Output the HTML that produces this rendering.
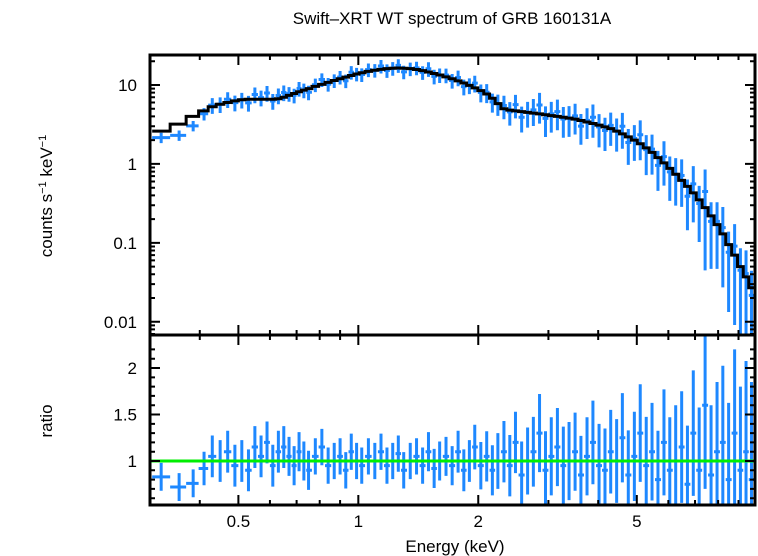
<!DOCTYPE html>
<html><head><meta charset="utf-8"><style>
body{margin:0;background:#fff;}
svg{display:block;font-family:"Liberation Sans",sans-serif;}
</style></head><body>
<svg id="chart" width="758" height="556" viewBox="0 0 758 556" xmlns="http://www.w3.org/2000/svg">
<text x="452" y="24" font-size="17" text-anchor="middle">Swift–XRT WT spectrum of GRB 160131A</text>
<text transform="translate(52,196) rotate(-90)" font-size="17" text-anchor="middle">counts s<tspan font-size="11" dy="-6">−1</tspan><tspan dy="6"> keV</tspan><tspan font-size="11" dy="-6">−1</tspan></text>
<text transform="translate(52,421) rotate(-90)" font-size="17" text-anchor="middle">ratio</text>
<text x="455" y="552" font-size="17" text-anchor="middle">Energy (keV)</text>
<g id="g"></g>
</svg>
<script>
const energies=[0.32,0.355,0.385,0.41,0.43,0.45,0.47,0.49,0.51,0.53,0.55,0.57,0.59,0.61,0.63,0.65,0.67,0.69,0.71,0.73,0.75,0.78,0.81,0.84,0.87,0.9,0.93,0.96,0.99,1.02,1.06,1.1,1.14,1.18,1.22,1.26,1.3,1.35,1.4,1.45,1.5,1.55,1.6,1.66,1.72,1.78,1.84,1.9,1.96,2.03,2.1,2.17,2.24,2.32,2.4,2.48,2.57,2.66,2.75,2.85,2.95,3.05,3.16,3.27,3.38,3.5,3.62,3.75,3.88,4.02,4.16,4.3,4.45,4.6,4.76,4.93,5.1,5.28,5.46,5.65,5.85,6.05,6.26,6.48,6.7,6.93,7.17,7.42,7.68,7.95,8.22,8.5,8.8,9.1,9.4,9.7];
const model=[2.6,3.2,4.0,4.7,5.3,5.7,6.0,6.3,6.5,6.6,6.6,6.6,6.6,6.6,6.7,7.0,7.4,7.8,8.2,8.6,9.0,9.6,10.2,10.8,11.4,12.0,12.6,13.2,13.8,14.3,14.9,15.4,15.8,16.1,16.3,16.4,16.3,16.1,15.7,15.2,14.6,14.0,13.4,12.7,12.0,11.3,10.6,9.9,9.2,8.5,7.7,6.8,5.8,5.0,4.8,4.7,4.6,4.5,4.4,4.3,4.2,4.1,4.0,3.9,3.8,3.7,3.55,3.4,3.25,3.1,2.95,2.8,2.6,2.4,2.2,2.0,1.8,1.6,1.4,1.2,1.03,0.88,0.74,0.62,0.52,0.43,0.35,0.28,0.22,0.17,0.13,0.095,0.07,0.05,0.037,0.027];
const ratio=[0.83,0.72,0.76,0.92,1.05,1.0,1.1,0.95,1.0,0.9,1.15,1.05,1.2,0.95,1.1,1.15,1.05,0.95,1.1,1.0,0.9,1.05,1.15,0.95,1.0,1.05,0.9,1.1,1.0,0.95,1.05,1.0,1.1,0.95,1.0,1.08,0.9,1.0,1.05,0.95,1.1,0.92,1.0,1.05,0.95,1.1,0.9,1.0,1.15,0.95,1.05,0.9,1.0,1.1,0.95,1.2,0.85,1.0,1.1,1.3,0.9,1.05,1.15,0.95,1.0,1.1,0.85,1.05,1.2,0.95,0.9,1.1,1.0,1.25,0.85,1.05,1.3,0.95,1.1,0.8,1.2,0.9,1.0,1.15,0.75,1.3,0.9,1.6,0.85,1.1,1.2,0.8,1.3,0.9,1.1,0.8];
const errFrac=[0.1,0.1,0.1,0.12,0.15,0.15,0.15,0.15,0.15,0.15,0.15,0.15,0.15,0.15,0.15,0.15,0.14,0.14,0.14,0.14,0.14,0.13,0.13,0.13,0.13,0.13,0.13,0.13,0.13,0.13,0.13,0.13,0.13,0.13,0.13,0.13,0.13,0.13,0.13,0.13,0.14,0.14,0.14,0.14,0.14,0.15,0.15,0.15,0.16,0.17,0.18,0.18,0.2,0.22,0.22,0.22,0.24,0.24,0.25,0.28,0.28,0.28,0.28,0.28,0.28,0.28,0.28,0.28,0.3,0.3,0.3,0.3,0.3,0.32,0.32,0.32,0.35,0.35,0.35,0.35,0.38,0.38,0.4,0.4,0.42,0.45,0.45,0.6,0.5,0.5,0.55,0.55,0.6,0.6,0.65,0.7];
const xTicks=[0.5,1,2,5];
const yTicksTop=[0.01,0.1,1,10];
const yTicksBot=[1,1.5,2];

const NS="http://www.w3.org/2000/svg",g=document.getElementById('g');
const L=150,R=755,T1=55,B1=335,T2=335,B2=505,ERR_SCALE=1.5;
const xMin=0.3,xMax=9.9,yMinT=0.0068,yMaxT=24,yMinB=0.527,yMaxB=2.355;
const xs=e=>L+(R-L)*(Math.log10(e)-Math.log10(xMin))/(Math.log10(xMax)-Math.log10(xMin));
const yt=v=>B1-(B1-T1)*(Math.log10(v)-Math.log10(yMinT))/(Math.log10(yMaxT)-Math.log10(yMinT));
const yb=v=>B2-(B2-T2)*(v-yMinB)/(yMaxB-yMinB);
function el(tag,a){const e=document.createElementNS(NS,tag);for(const k in a)e.setAttribute(k,a[k]);g.appendChild(e);return e;}
const n=Math.min(energies.length,model.length,ratio.length,errFrac.length);
function edges(i){const lo=i>0?Math.sqrt(energies[i-1]*energies[i]):Math.max(xMin,energies[0]*energies[0]/Math.sqrt(energies[0]*energies[1]));const hi=i<energies.length-1?Math.sqrt(energies[i]*energies[i+1]):Math.min(xMax,energies[i]*1.02);return [lo,hi];}
const blue="#1e88ff";
for(let i=0;i<n;i++){
  const [lo,hi]=edges(i),x=xs(energies[i]),x0=xs(lo),x1=xs(hi);
  const c=model[i]*ratio[i],ef=errFrac[i]*ERR_SCALE;
  let y=yt(c),ya=yt(c*(1+ef)),yb2=yt(Math.max(c*(1-ef),1e-4));
  const p=el('path',{d:`M${x0},${y}H${x1}M${x},${Math.max(T1,ya)}V${Math.min(B1,yb2)}`,stroke:blue,'stroke-width':3,fill:'none'});
  
  
  const r=ratio[i],ry=yb(r),ra=yb(r+ef),rb=yb(r-ef);
  const q=el('path',{d:`M${x0},${Math.min(B2,Math.max(T2,ry))}H${x1}M${x},${Math.max(T2,ra)}V${Math.min(B2,rb)}`,stroke:blue,'stroke-width':3,fill:'none'});
  
  
}
let d='';
for(let i=0;i<n;i++){const [lo,hi]=edges(i);const y=yt(model[i]);d+=(i?'L':'M')+xs(lo)+','+y+'H'+xs(hi);}
const m=el('path',{d:d,stroke:'#000','stroke-width':3,fill:'none'});


const gl=el('line',{x1:L,x2:R,y1:yb(1),y2:yb(1),stroke:'#00ee00','stroke-width':3});


const f1=el('rect',{x:L,y:T1,width:R-L,height:B1-T1,fill:'none',stroke:'#000','stroke-width':3});


const f2=el('rect',{x:L,y:T2,width:R-L,height:B2-T2,fill:'none',stroke:'#000','stroke-width':3});


let tk='';
for(let dec=0.1;dec<=10;dec*=10)for(let k=1;k<10;k++){const e=+(dec*k).toFixed(3);if(e<xMin||e>xMax)continue;const x=xs(e);const big=(k===1||k===5||e===2);const len=big?10:5;
 tk+=`M${x},${T1}v${len}M${x},${B1}v${-len}M${x},${B1}v${len}M${x},${B2}v${-len}`;}
for(let dec=0.001;dec<=10;dec*=10)for(let k=1;k<10;k++){const v=dec*k;if(v<yMinT||v>yMaxT)continue;const y=yt(v),len=k===1?10:5;tk+=`M${L},${y}h${len}M${R},${y}h${-len}`;}
for(let v=0.6;v<=2.3;v+=0.1){const y=yb(v),len=Math.abs(v*2-Math.round(v*2))<0.01?10:5;tk+=`M${L},${y}h${len}M${R},${y}h${-len}`;}
const tp=el('path',{d:tk,stroke:'#000','stroke-width':2,fill:'none'});


xTicks.forEach(v=>{const t=el('text',{x:xs(v),y:527,'font-size':17,'text-anchor':'middle'});t.textContent=String(v);
 
 });
yTicksTop.forEach(v=>{const t=el('text',{x:137,y:yt(v)+6,'font-size':17,'text-anchor':'end'});t.textContent=String(v);
 
 });
yTicksBot.forEach(v=>{const t=el('text',{x:137,y:yb(v)+6,'font-size':17,'text-anchor':'end'});t.textContent=String(v);
 
 });
</script>
</body></html>
